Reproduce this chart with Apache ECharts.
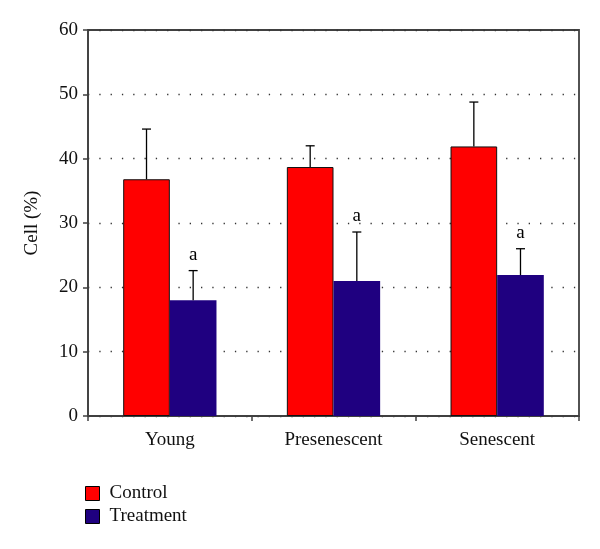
<!DOCTYPE html>
<html><head><meta charset="utf-8">
<script src="https://cdn.jsdelivr.net/npm/echarts@6/dist/echarts.min.js"></script>
<style>html,body{margin:0;padding:0;background:#fff}#c{width:600px;height:549px}</style>
</head><body><div id="c"></div>
<script>
var categories = ['Young', 'Presenescent', 'Senescent'];
var controlValues = [36.8, 38.7, 41.9];
var controlErrTop = [44.6, 42.0, 48.8];
var treatmentValues = [18.0, 21.0, 21.9];
var treatmentErrTop = [22.6, 28.6, 26.0];
var treatmentMarks = ['a', 'a', 'a'];
var yTicks = [0, 10, 20, 30, 40, 50, 60];

var FONT = 'Liberation Serif';
var CAT_GAP = 0.43;

function errRender(sideSign, marks) {
  return function (params, api) {
    var idx = api.value(0);
    var val = api.value(1);
    var top = api.value(2);
    var band = api.size([1, 0])[0];
    var bw = band * (1 - CAT_GAP) / 2;
    var base = api.coord([idx, val]);
    var topPt = api.coord([idx, top]);
    var x = base[0] + sideSign * bw / 2;
    var children = [
      {type: 'line', shape: {x1: x, y1: base[1], x2: x, y2: topPt[1]}, style: {stroke: '#000', lineWidth: 1.3}},
      {type: 'line', shape: {x1: x - 4.5, y1: topPt[1], x2: x + 4.5, y2: topPt[1]}, style: {stroke: '#000', lineWidth: 1.3}}
    ];
    if (marks && marks[idx]) {
      children.push({type: 'text', style: {text: marks[idx], x: x, y: topPt[1] - 6, align: 'center', verticalAlign: 'bottom', font: '19px "' + FONT + '"', fill: '#000'}});
    }
    return {type: 'group', children: children};
  };
}

var chart = echarts.init(document.getElementById('c'));
chart.setOption({
  animation: false,
  backgroundColor: '#fff',
  textStyle: {fontFamily: FONT},
  grid: {left: 88, right: 21, top: 30, bottom: 133, show: true, borderColor: '#404040', borderWidth: 1.8, backgroundColor: 'transparent'},
  legend: {
    orient: 'vertical', left: 80, top: 479, itemWidth: 14, itemHeight: 14, itemGap: 4, icon: 'rect',
    textStyle: {fontFamily: FONT, fontSize: 19, lineHeight: 19, color: '#111', padding: [0, 0, 0, 5]},
    data: [
      {name: 'Control', itemStyle: {color: '#FF0000', borderColor: '#000', borderWidth: 1}},
      {name: 'Treatment', itemStyle: {color: '#1F0080', borderColor: '#000', borderWidth: 1}}
    ]
  },
  xAxis: {
    type: 'category', data: categories,
    axisLine: {lineStyle: {color: '#404040', width: 1.5}},
    axisTick: {show: true, length: 5, lineStyle: {color: '#404040', width: 1.5}},
    axisLabel: {fontFamily: FONT, fontSize: 19, color: '#111', margin: 15}
  },
  yAxis: {
    type: 'value', min: 0, max: 60, interval: 10,
    name: 'Cell (%)', nameLocation: 'middle', nameGap: 46, nameRotate: 90,
    nameTextStyle: {fontFamily: FONT, fontSize: 19, color: '#111'},
    axisLine: {show: true, lineStyle: {color: '#404040', width: 1.5}},
    axisTick: {show: true, length: 5, lineStyle: {color: '#404040', width: 1.5}},
    axisLabel: {fontFamily: FONT, fontSize: 19, color: '#111', margin: 10,
      formatter: function (v) { return yTicks.indexOf(v) >= 0 ? String(v) : ''; }},
    splitLine: {show: true, lineStyle: {color: '#333', type: [1.3, 10], width: 1.3}}
  },
  series: [
    {name: 'Control', type: 'bar', data: controlValues, barGap: '0%', barCategoryGap: '43%',
      itemStyle: {color: '#FF0000', borderColor: '#111', borderWidth: 1}, z: 2},
    {name: 'Treatment', type: 'bar', data: treatmentValues, barGap: '0%', barCategoryGap: '43%',
      itemStyle: {color: '#1F0080', borderColor: '#1F0080', borderWidth: 0}, z: 2},
    {name: 'ctrlErr', type: 'custom', renderItem: errRender(-1, null), z: 3,
      data: controlValues.map(function (v, i) { return [i, v, controlErrTop[i]]; })},
    {name: 'trtErr', type: 'custom', renderItem: errRender(1, treatmentMarks), z: 3,
      data: treatmentValues.map(function (v, i) { return [i, v, treatmentErrTop[i]]; })}
  ]
});
</script></body></html>
